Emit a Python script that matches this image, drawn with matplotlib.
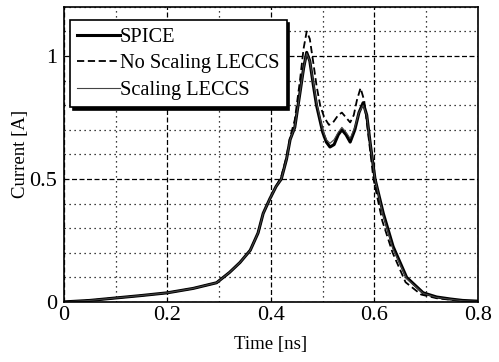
import matplotlib.pyplot as plt
import numpy as np

plt.rcParams['font.family'] = ['Liberation Serif', 'DejaVu Serif']

# time [ns]
t_spice = [0.0, 0.05, 0.1, 0.15, 0.2, 0.25, 0.295, 0.32, 0.34, 0.36, 0.375, 0.385, 0.398, 0.41,
           0.42, 0.43, 0.437, 0.446, 0.456, 0.463, 0.469, 0.475, 0.482, 0.488, 0.5, 0.507, 0.514,
           0.522, 0.53, 0.537, 0.545, 0.553, 0.562, 0.57, 0.578, 0.585, 0.592, 0.601, 0.617,
           0.636, 0.662, 0.694, 0.72, 0.746, 0.77, 0.8]
spice = [0.0, 0.006, 0.016, 0.026, 0.037, 0.055, 0.078, 0.12, 0.16, 0.21, 0.28, 0.36, 0.42, 0.47,
         0.50, 0.58, 0.66, 0.71, 0.85, 0.95, 1.015, 0.98, 0.88, 0.80, 0.69, 0.65, 0.63,
         0.64, 0.68, 0.70, 0.68, 0.65, 0.70, 0.77, 0.81, 0.76, 0.64, 0.50, 0.36,
         0.225, 0.10, 0.037, 0.02, 0.012, 0.006, 0.003]

t_noscale = [0.0, 0.05, 0.1, 0.15, 0.2, 0.25, 0.295, 0.32, 0.34, 0.36, 0.375, 0.385, 0.398, 0.41,
             0.42, 0.43, 0.437, 0.446, 0.456, 0.463, 0.469, 0.475, 0.482, 0.488, 0.495, 0.503, 0.512,
             0.52, 0.53, 0.537, 0.545, 0.553, 0.56, 0.566, 0.573, 0.58, 0.588, 0.598, 0.615,
             0.635, 0.66, 0.69, 0.72, 0.746, 0.77, 0.8]
noscale = [0.0, 0.006, 0.016, 0.026, 0.037, 0.055, 0.078, 0.12, 0.16, 0.21, 0.28, 0.36, 0.42, 0.47,
           0.51, 0.59, 0.67, 0.74, 0.90, 1.03, 1.10, 1.07, 0.97, 0.88, 0.80, 0.75, 0.72,
           0.73, 0.76, 0.77, 0.75, 0.73, 0.76, 0.82, 0.87, 0.82, 0.68, 0.50, 0.33,
           0.20, 0.08, 0.03, 0.015, 0.009, 0.005, 0.002]

t_scale = t_spice
scale = [0.0, 0.006, 0.016, 0.026, 0.037, 0.055, 0.078, 0.12, 0.16, 0.21, 0.28, 0.36, 0.42, 0.47,
         0.50, 0.58, 0.66, 0.71, 0.85, 0.95, 1.01, 0.98, 0.89, 0.81, 0.70, 0.66, 0.645,
         0.66, 0.69, 0.71, 0.69, 0.665, 0.71, 0.77, 0.80, 0.76, 0.64, 0.50, 0.35,
         0.215, 0.095, 0.035, 0.018, 0.011, 0.005, 0.002]

fig = plt.figure(figsize=(4.99, 3.62), dpi=100)
ax = fig.add_axes([0.128, 0.166, 0.830, 0.815])

ax.plot(t_spice, spice, color='black', lw=2.2, label='SPICE')
ax.plot(t_noscale, noscale, color='black', lw=1.3, ls=(0, (4, 2)), label='No Scaling LECCS')
ax.plot(t_scale, scale, color='#444444', lw=0.8, label='Scaling LECCS')

ax.set_xlim(0, 0.8)
ax.set_ylim(0, 1.2)
ax.set_xticks([0, 0.2, 0.4, 0.6, 0.8])
ax.set_xticklabels(['0', '0.2', '0.4', '0.6', '0.8'])
ax.set_yticks([0, 0.5, 1])
ax.set_yticklabels(['0', '0.5', '1'])
ax.set_xticks(np.arange(0, 0.81, 0.1), minor=True)
ax.set_yticks(np.arange(0, 1.21, 0.1), minor=True)
ax.tick_params(which='both', length=0, labelsize=16)
ax.tick_params(axis='x', pad=3)
ax.tick_params(axis='y', pad=5)

ax.grid(which='major', color='black', ls=(0, (4, 2)), lw=0.9)
ax.grid(which='minor', color='black', ls=(0, (1, 3)), lw=0.9)
ax.set_axisbelow(True)
for s in ax.spines.values():
    s.set_linewidth(1.2)

ax.set_xlabel('Time [ns]', fontsize=13.5, labelpad=8)
ax.set_ylabel('Current [A]', fontsize=13.5)
ax.yaxis.set_label_coords(-0.085, 0.5)

leg = ax.legend(loc='upper left', bbox_to_anchor=(0.0, 0.975), fontsize=14.7,
                handlelength=2.1, handletextpad=0.0, borderaxespad=0.3,
                fancybox=False, shadow={'color': 'black', 'alpha': 1.0},
                framealpha=1, edgecolor='black',
                borderpad=0.35, labelspacing=0.35)
leg.get_frame().set_linewidth(1.2)

fig.savefig('out.png', dpi=100)
